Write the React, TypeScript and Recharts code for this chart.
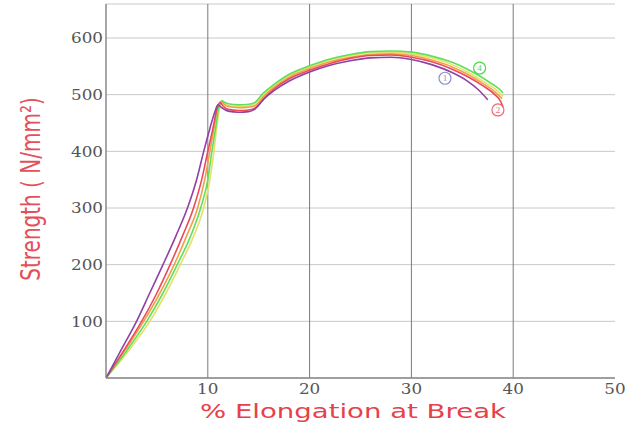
import { LineChart, Line, XAxis, YAxis, CartesianGrid, ReferenceDot, Label } from "recharts";

type Pt = { x: number; y: number };

// strain (%) vs strength (N/mm²)
const purple: Pt[] = [
  { x: 0, y: 0 }, { x: 1.5, y: 50 }, { x: 3, y: 100 }, { x: 4.3, y: 150 }, { x: 5.6, y: 200 },
  { x: 6.85, y: 250 }, { x: 8, y: 300 }, { x: 8.9, y: 350 }, { x: 9.6, y: 400 }, { x: 10.2, y: 440 },
  { x: 10.7, y: 470 }, { x: 11.0, y: 482 }, { x: 11.3, y: 478 }, { x: 12, y: 471 }, { x: 13, y: 469 },
  { x: 14, y: 470 }, { x: 14.6, y: 474 }, { x: 15.5, y: 492 }, { x: 16.5, y: 507 }, { x: 18, y: 524 },
  { x: 20, y: 540 }, { x: 22, y: 552 }, { x: 24, y: 560 }, { x: 26, y: 565 }, { x: 28, y: 566 },
  { x: 30, y: 562 }, { x: 32, y: 553 }, { x: 34, y: 539 }, { x: 35.5, y: 524 }, { x: 36.5, y: 510 },
  { x: 37.5, y: 491 },
];

const red: Pt[] = [
  { x: 0, y: 0 }, { x: 1.8, y: 50 }, { x: 3.5, y: 100 }, { x: 5, y: 150 }, { x: 6.3, y: 200 },
  { x: 7.5, y: 250 }, { x: 8.6, y: 300 }, { x: 9.4, y: 350 }, { x: 10, y: 400 }, { x: 10.5, y: 440 },
  { x: 10.9, y: 475 }, { x: 11.2, y: 486 }, { x: 11.5, y: 480 }, { x: 12, y: 474 }, { x: 13, y: 472 },
  { x: 14, y: 473 }, { x: 14.7, y: 477 }, { x: 15.6, y: 495 }, { x: 16.5, y: 510 }, { x: 18, y: 528 },
  { x: 20, y: 543 }, { x: 22, y: 555 }, { x: 24, y: 564 }, { x: 26, y: 569 }, { x: 28, y: 570 },
  { x: 30, y: 566 }, { x: 32, y: 558 }, { x: 34, y: 545 }, { x: 35.5, y: 532 }, { x: 37, y: 516 },
  { x: 38.2, y: 500 }, { x: 38.8, y: 487 }, { x: 39, y: 478 },
];

const orange: Pt[] = [
  { x: 0, y: 0 }, { x: 1.9, y: 50 }, { x: 3.7, y: 100 }, { x: 5.3, y: 150 }, { x: 6.7, y: 200 },
  { x: 7.9, y: 250 }, { x: 9, y: 300 }, { x: 9.7, y: 350 }, { x: 10.2, y: 400 }, { x: 10.6, y: 440 },
  { x: 11, y: 478 }, { x: 11.3, y: 488 }, { x: 11.6, y: 483 }, { x: 12, y: 479 }, { x: 13, y: 477 },
  { x: 14, y: 478 }, { x: 14.7, y: 481 }, { x: 15.5, y: 497 }, { x: 16.5, y: 513 }, { x: 18, y: 531 },
  { x: 20, y: 546 }, { x: 22, y: 558 }, { x: 24, y: 566 }, { x: 26, y: 571 }, { x: 28, y: 572 },
  { x: 30, y: 569 }, { x: 32, y: 561 }, { x: 34, y: 549 }, { x: 35.5, y: 536 }, { x: 37, y: 520 },
  { x: 38.2, y: 505 }, { x: 38.9, y: 493 },
];

const green: Pt[] = [
  { x: 0, y: 0 }, { x: 2.1, y: 50 }, { x: 4, y: 100 }, { x: 5.6, y: 150 }, { x: 7, y: 200 },
  { x: 8.3, y: 250 }, { x: 9.3, y: 300 }, { x: 10, y: 350 }, { x: 10.4, y: 400 }, { x: 10.8, y: 445 },
  { x: 11.1, y: 480 }, { x: 11.4, y: 489 }, { x: 11.7, y: 486 }, { x: 12, y: 484 }, { x: 13, y: 482 },
  { x: 14, y: 483 }, { x: 14.6, y: 486 }, { x: 15.4, y: 502 }, { x: 16.5, y: 518 }, { x: 18, y: 536 },
  { x: 20, y: 551 }, { x: 22, y: 563 }, { x: 24, y: 571 }, { x: 26, y: 576 }, { x: 28, y: 577 },
  { x: 30, y: 575 }, { x: 32, y: 568 }, { x: 34, y: 557 }, { x: 35.5, y: 545 }, { x: 36.7, y: 533 },
  { x: 38, y: 518 }, { x: 38.7, y: 509 }, { x: 39, y: 503 },
];

const yellow: Pt[] = [
  { x: 0, y: 0 }, { x: 2.3, y: 50 }, { x: 4.3, y: 100 }, { x: 5.9, y: 150 }, { x: 7.3, y: 200 },
  { x: 8.6, y: 250 }, { x: 9.6, y: 300 }, { x: 10.2, y: 350 }, { x: 10.6, y: 400 }, { x: 10.9, y: 445 },
  { x: 11.2, y: 480 }, { x: 11.4, y: 487 }, { x: 11.7, y: 484 }, { x: 12, y: 481 }, { x: 13, y: 479 },
  { x: 14, y: 480 }, { x: 14.7, y: 484 }, { x: 15.5, y: 500 }, { x: 16.5, y: 516 }, { x: 18, y: 534 },
  { x: 20, y: 549 }, { x: 22, y: 561 }, { x: 24, y: 569 }, { x: 26, y: 574 }, { x: 28, y: 575 },
  { x: 30, y: 572 }, { x: 32, y: 565 }, { x: 34, y: 553 }, { x: 35.5, y: 540 }, { x: 37, y: 524 },
  { x: 38.3, y: 509 }, { x: 39, y: 497 },
];

const xTicks = [10, 20, 30, 40, 50];
const yTicks = [100, 200, 300, 400, 500, 600];

const markers = [
  { id: "1", x: 33.3, y: 529, color: "#8a94c8" },
  { id: "4", x: 36.7, y: 547, color: "#4ed64e" },
  { id: "2", x: 38.5, y: 473, color: "#f06878" },
];

const series = [
  { name: "yellow", data: yellow, color: "#e6e06a" },
  { name: "orange", data: orange, color: "#f0a04a" },
  { name: "green", data: green, color: "#5ee05a" },
  { name: "red", data: red, color: "#ea4a5a" },
  { name: "purple", data: purple, color: "#9140a6" },
];

const tickStyle = { fontFamily: "'DejaVu Serif', serif", fontSize: 15, fill: "#555" };

const YTick = (props: any) => {
  const { x, y, payload } = props;
  return (
    <g transform={`translate(${x},${y})`}>
      <text transform="scale(1.12,1)" textAnchor="end" dy="0.35em" style={tickStyle}>
        {payload.value}
      </text>
    </g>
  );
};

const XTick = (props: any) => {
  const { x, y, payload } = props;
  return (
    <g transform={`translate(${x},${y})`}>
      <text transform="scale(1.12,1)" textAnchor="middle" dy="0.71em" style={tickStyle}>
        {payload.value}
      </text>
    </g>
  );
};

export default function App() {
  return (
    <div style={{ position: "absolute", left: 0, top: 0, background: "#fff" }}>
      <LineChart width={639} height={428} margin={{ top: 4, right: 24, bottom: 0, left: 0 }}>
        <CartesianGrid vertical={false} stroke="#c8c8c8" />
        <CartesianGrid horizontal={false} stroke="#7a7a7a" verticalValues={[10, 20, 30, 40]} />
        <XAxis
          type="number"
          dataKey="x"
          domain={[0, 50]}
          ticks={xTicks}
          tick={<XTick />}
          tickLine={false}
          tickSize={0}
          tickMargin={5}
          height={50}
          stroke="#888"
          strokeWidth={1.5}
          allowDataOverflow
        >
          <Label
            content={() => (
              <text
                x={353}
                y={418}
                textAnchor="middle"
                textLength={306}
                lengthAdjust="spacingAndGlyphs"
                style={{ fontFamily: "'DejaVu Sans', sans-serif", fontSize: 20, fill: "#e8404a" }}
              >
                % Elongation at Break
              </text>
            )}
          />
        </XAxis>
        <YAxis
          type="number"
          domain={[0, 660]}
          ticks={yTicks}
          tick={<YTick />}
          tickLine={false}
          tickSize={0}
          tickMargin={3}
          width={106}
          stroke="#888"
          strokeWidth={1.5}
          allowDataOverflow
        >
          <Label
            content={() => (
              <text
                transform="translate(30,189) scale(1.3,1) rotate(-90)"
                textAnchor="middle"
                dominantBaseline="central"
                style={{ fontFamily: "'DejaVu Sans', sans-serif", fontSize: 20, fill: "#e4505a" }}
              >
                Strength ( N/mm²)
              </text>
            )}
          />
        </YAxis>
        {series.map((s) => (
          <Line
            key={s.name}
            data={s.data}
            dataKey="y"
            type="monotone"
            stroke={s.color}
            strokeWidth={1.6}
            dot={false}
            isAnimationActive={false}
          />
        ))}
        {markers.map((m) => (
          <ReferenceDot
            key={m.id}
            x={m.x}
            y={m.y}
            r={6}
            fill="none"
            stroke={m.color}
            strokeWidth={1.2}
            label={{ value: m.id, fill: m.color, fontSize: 9, position: "center" }}
          />
        ))}
      </LineChart>
    </div>
  );
}
